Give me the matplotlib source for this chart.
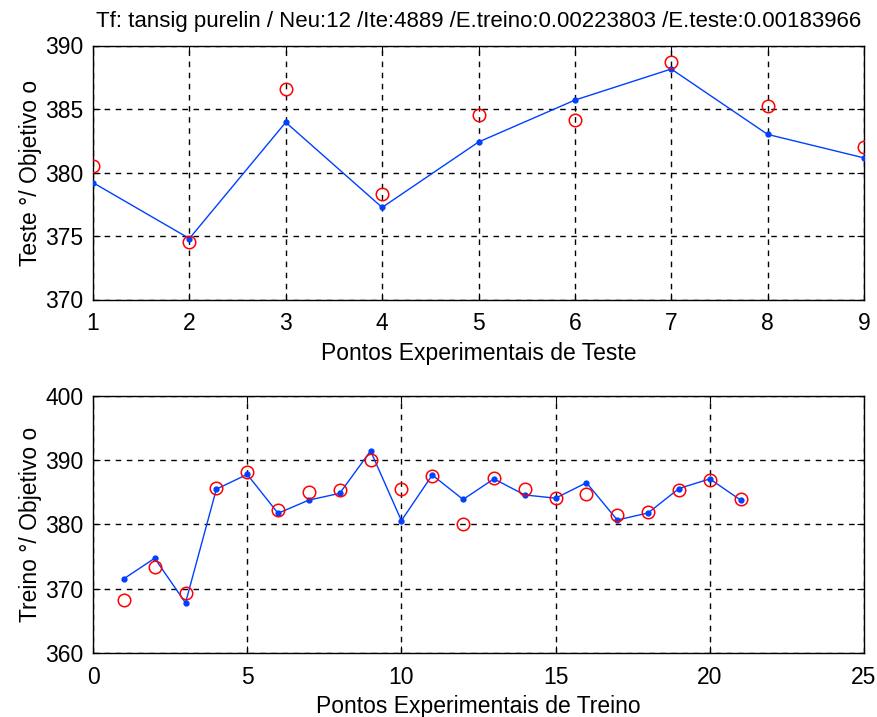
import matplotlib
matplotlib.use("Agg")
import matplotlib.pyplot as plt

plt.rcParams['font.family'] = ['Liberation Sans', 'DejaVu Sans']

# Test data
test_x = [1, 2, 3, 4, 5, 6, 7, 8, 9]
test_pred = [379.2, 374.8, 383.95, 377.25, 382.4, 385.7, 388.15, 383.0, 381.15]
test_obj = [380.5, 374.5, 386.6, 378.3, 384.5, 384.1, 388.7, 385.2, 382.0]

# Train data
train_x = list(range(1, 22))
train_pred = [371.55, 374.75, 367.8, 385.5, 387.8, 381.75, 383.8, 384.85, 391.45, 380.6,
              387.7, 383.9, 387.1, 384.6, 384.1, 386.5, 380.7, 381.8, 385.6, 387.1, 383.8]
train_obj = [368.2, 373.4, 369.3, 385.75, 388.2, 382.2, 385.0, 385.3, 390.0, 385.5,
             387.6, 380.0, 387.3, 385.6, 384.15, 384.7, 381.5, 381.9, 385.3, 386.9, 383.9]

title = "Tf: tansig purelin / Neu:12 /Ite:4889 /E.treino:0.00223803 /E.teste:0.00183966"

W, H = 877, 717
fig = plt.figure(figsize=(W / 100, H / 100), dpi=100)

def ax_rect(l, r, t, b):
    return [l / W, 1 - b / H, (r - l) / W, (b - t) / H]

ax1 = fig.add_axes(ax_rect(93, 864, 45.5, 299.5))
ax2 = fig.add_axes(ax_rect(93, 864, 396, 653))

blue = '#0040ff'
red = '#ff0000'
fs = 16.5

for ax, x, p, o in [(ax1, test_x, test_pred, test_obj), (ax2, train_x, train_pred, train_obj)]:
    ax.plot(x, p, '-', color=blue, lw=1.0, marker='.', ms=7, zorder=3)
    ax.plot(x, o, 'o', mfc='none', mec=red, ms=9, mew=1.1, zorder=4)
    ax.grid(True, color='black', linestyle=(0, (4, 4)), lw=1.0)
    ax.tick_params(direction='in', labelsize=fs, length=5, top=True, right=True)
    ax.tick_params(axis='x', pad=9)
    ax.tick_params(axis='y', pad=7)
    for s in ax.spines.values():
        s.set_linewidth(1.0)

ax1.set_xlim(1, 9)
ax1.set_ylim(370, 390)
ax1.set_xticks(range(1, 10))
ax1.set_yticks([370, 375, 380, 385, 390])
ax1.set_xlabel('Pontos Experimentais de Teste', fontsize=fs, labelpad=5)
ax1.set_ylabel('Teste °/ Objetivo o', fontsize=fs, labelpad=2)
ax1.set_title(title, fontsize=16, pad=13)

ax2.set_xlim(0, 25)
ax2.set_ylim(360, 400)
ax2.set_xticks([0, 5, 10, 15, 20, 25])
ax2.set_yticks([360, 370, 380, 390, 400])
ax2.set_xlabel('Pontos Experimentais de Treino', fontsize=fs, labelpad=5)
ax2.set_ylabel('Treino °/ Objetivo o', fontsize=fs, labelpad=2)

fig.savefig('out.png', dpi=100)
